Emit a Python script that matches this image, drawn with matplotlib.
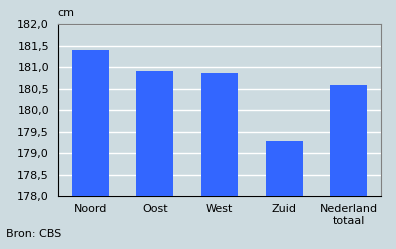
import numpy as np
import matplotlib.pyplot as plt

regio = ["Noord", "Oost", "West", "Zuid", "Nederland\ntotaal"]
lengte = [181.4, 180.91, 180.87, 179.28, 180.59]
yticks = [178.0, 178.5, 179.0, 179.5, 180.0, 180.5, 181.0, 181.5, 182.0]

bg = "#cddbe0"
fs = 8
fig = plt.figure(figsize=(3.96, 2.49), dpi=100, facecolor=bg)
ax = fig.add_axes([58 / 396, 1 - 196 / 249, (381 - 58) / 396, (196 - 24) / 249])
ax.set_facecolor(bg)

x = np.arange(len(regio))
ax.bar(x, np.array(lengte) - 178, bottom=178, width=0.57, color="#3366ff", zorder=3)

ax.set_ylim(178, 182)
ax.set_xlim(-0.5, len(regio) - 0.5)
ax.set_yticks(yticks)
ax.set_yticklabels([f"{v:.1f}".replace(".", ",") for v in yticks], fontsize=fs)
ax.set_xticks(x)
ax.set_xticklabels(regio, fontsize=fs, linespacing=1.15)
ax.tick_params(axis="y", length=0, pad=6.5)
ax.tick_params(axis="x", length=0, pad=6)
ax.grid(axis="y", color="white", linewidth=1, zorder=1)

for s in ["top", "right"]:
    ax.spines[s].set_color("#808080")
for s in ["left", "bottom"]:
    ax.spines[s].set_color("black")

fig.text(57 / 396, 1 - 13 / 249, "cm", fontsize=fs, va="center")
fig.text(6 / 396, 1 - 234 / 249, "Bron: CBS", fontsize=fs, va="center")

fig.savefig("out.png", dpi=100, facecolor=bg)
